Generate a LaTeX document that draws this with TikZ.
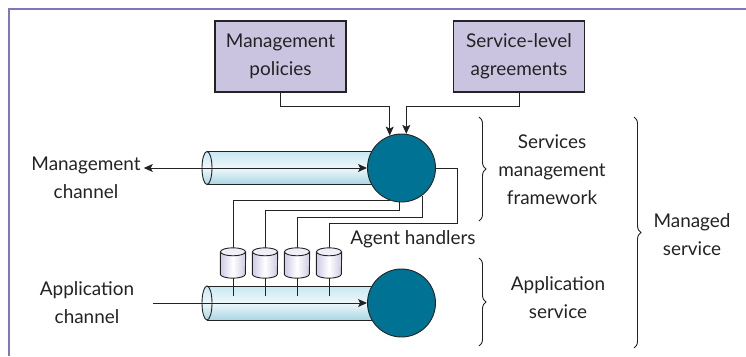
\documentclass[tikz,border=0pt]{standalone}
\usepackage{fontspec}
\setmainfont{Lato}
\usetikzlibrary{arrows.meta,calc,decorations.pathreplacing}
\definecolor{framecol}{RGB}{128,118,190}
\definecolor{boxfill}{RGB}{202,196,224}
\definecolor{hubcol}{RGB}{0,115,148}
\definecolor{ink}{RGB}{35,35,35}
\definecolor{pipetop}{RGB}{200,232,241}
\definecolor{pipemid}{RGB}{238,248,251}
\definecolor{pipebot}{RGB}{170,214,228}
\definecolor{cylside}{RGB}{206,202,228}
\definecolor{cyltop}{RGB}{240,239,248}
\tikzset{
  lbl/.style={font=\fontsize{19}{28}\selectfont, align=center, text=ink, inner sep=3bp},
  mbox/.style={lbl, draw=ink, line width=1.1bp, fill=boxfill, minimum width=131bp, minimum height=71bp},
  hub/.style={circle, draw=ink, line width=0.9bp, fill=hubcol, minimum size=68bp, inner sep=0pt},
  handler/.style={rectangle, minimum width=25bp, minimum height=30bp, inner sep=0pt},
  wire/.style={draw=ink, line width=1bp},
  arr/.style={wire, -{Stealth[length=9bp,width=8bp,inset=2bp]}},
  dblarr/.style={wire, {Stealth[length=9bp,width=8bp,inset=2bp]}-{Stealth[length=9bp,width=8bp,inset=2bp]}},
  pipeline/.style={draw=ink, line width=0.9bp},
  pipeshade/.style={top color=pipetop, bottom color=pipebot, middle color=pipemid},
  cylshade/.style={left color=cylside, right color=cylside, middle color=white},
  brc/.style={draw=ink, line width=0.9bp, decorate, decoration={brace, amplitude=7bp}}
}
\begin{document}
\begin{tikzpicture}[x=1bp,y=1bp]
\useasboundingbox (0,0) rectangle (746,356);
% frame
\draw[framecol, line width=1.5bp] (9,0) -- (9,347) -- (746,347);

% pipes
\shade[pipeshade] (207,204.5) -- (390,204.5) -- (390,171.5) -- (207,171.5) arc[start angle=270, end angle=90, x radius=5, y radius=16.5];
\draw[pipeline] (207,204.5) -- (390,204.5) (207,171.5) -- (390,171.5);
\draw[pipeline] (207,188) ellipse [x radius=5, y radius=16.5];

\shade[pipeshade] (207,70) -- (390,70) -- (390,36) -- (207,36) arc[start angle=270, end angle=90, x radius=5, y radius=17];
\draw[pipeline] (207,70) -- (390,70) (207,36) -- (390,36);
\draw[pipeline] (207,53) ellipse [x radius=5, y radius=17];

% hubs
\node[hub] (c1) at (401.5,188) {};
\node[hub] (c2) at (401.5,53) {};

% boxes
\node[mbox] (mp) at (280.5,299.5) {Management\\policies};
\node[mbox] (sla) at (519,299.5) {Service-level\\agreements};

\coordinate (bus) at (0,250);
\draw[wire] (mp.south) |- (c1.110 |- bus);
\draw[arr] (c1.110 |- bus) -- (c1.110);
\draw[wire] (sla.south) |- (c1.82 |- bus);
\draw[arr] (c1.82 |- bus) -- (c1.82);

% handlers
\node[handler] (h1) at (233,93) {};
\node[handler] (h2) at (265,93) {};
\node[handler] (h3) at (297,93) {};
\node[handler] (h4) at (329,93) {};

% wires from handlers
\coordinate (l2) at (0,146);
\coordinate (l3) at (0,139);
\coordinate (r4) at (457,133);
\draw[wire] (h1.north) |- (c1.250);
\draw[wire] (h2.north) |- (c1.266 |- l2) -- (c1.266);
\draw[wire] (h3.north) |- (c1.307 |- l3) -- (c1.307);
\draw[wire] (h4.north) |- (r4) |- (c1.east);

\foreach \n in {h1,h2,h3,h4}{
  \shade[cylshade] ($(\n.north west)+(0,-4)$) -- ($(\n.south west)+(0,4)$)
     arc[start angle=180, end angle=360, x radius=12.5, y radius=4]
     -- ($(\n.north east)+(0,-4)$)
     arc[start angle=0, end angle=180, x radius=12.5, y radius=4] -- cycle;
  \draw[pipeline] ($(\n.north west)+(0,-4)$) -- ($(\n.south west)+(0,4)$)
     arc[start angle=180, end angle=360, x radius=12.5, y radius=4]
     -- ($(\n.north east)+(0,-4)$);
  \draw[pipeline, fill=cyltop] ($(\n.north)+(0,-4)$) ellipse [x radius=12.5, y radius=4];
  \draw[wire] (\n.south) -- ++(0,-18);
}

% channel labels and arrows
\node[lbl] (mc) at (86,178) {Management\\channel};
\node[lbl] (ac) at (87,53) {Application\\channel};
\draw[dblarr] (mc.east |- c1.west) -- (c1.west);
\draw[arr] ($(ac.east |- c2.west)+(16,0)$) -- (c2.west);

\node[lbl] (ah) at (413,117) {Agent handlers};

% braces
\draw[brc] (479,239) -- (479,135);
\draw[brc] (479,98) -- (479,10);
\draw[brc] (634,239) -- (634,8);

\node[lbl] (smf) at (552,186) {Services\\management\\framework};
\node[lbl] (as) at (558,58) {Application\\service};
\node[lbl] (ms) at (692,121) {Managed\\service};
\end{tikzpicture}
\end{document}
